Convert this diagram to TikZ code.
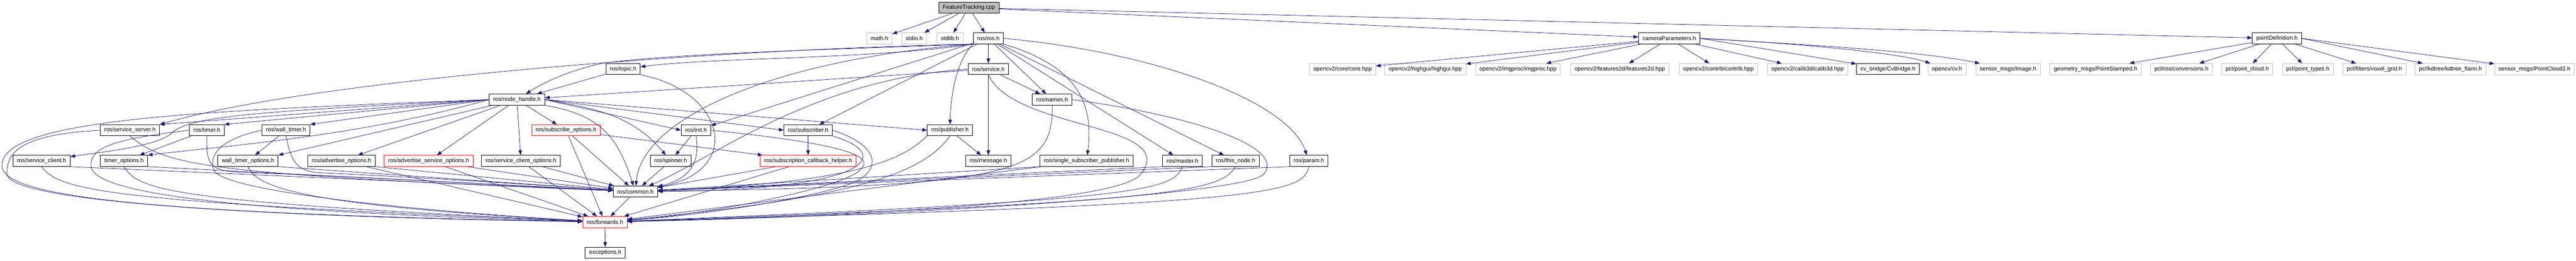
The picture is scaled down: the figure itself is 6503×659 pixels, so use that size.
\documentclass[tikz,border=0pt]{standalone}
\usepackage{fontspec}
\setmainfont{Liberation Sans}
\usepackage{tikz}
\usetikzlibrary{arrows.meta}

\definecolor{edgeblue}{HTML}{191970}
\definecolor{extgray}{HTML}{BFBFBF}

\begin{document}
\begin{tikzpicture}[
    x=1pt, y=1pt,
    box/.style={rectangle, draw=black, line width=1.2pt, minimum height=28pt, inner xsep=10pt, inner ysep=0pt, font=\fontsize{14.5}{17}\selectfont},
    extbox/.style={box, draw=extgray, line width=1pt},
    redbox/.style={box, draw=red},
    rootbox/.style={box, fill=extgray},
    arrow/.style={-{Triangle[length=12pt,width=9pt]}, draw=edgeblue, line width=1pt}
]
\useasboundingbox (0,0) rectangle (6503,-659);

% Source file and its direct includes
\node[rootbox] (ft) at (2446,-19.5) {FeatureTracking.cpp};
\node[extbox] (math) at (2220,-97) {math.h};
\node[extbox] (stdio) at (2308,-97) {stdio.h};
\node[extbox] (stdlib) at (2398,-97) {stdlib.h};
\node[box] (ros) at (2495,-97) {ros/ros.h};
\node[box] (campar) at (4214,-97) {cameraParameters.h};
\node[box] (ptdef) at (5748,-97) {pointDefinition.h};

% Third row
\node[box] (topic) at (1573,-174.5) {ros/topic.h};
\node[box] (service) at (2495,-174.5) {ros/service.h};
\node[extbox] (core) at (3389,-174.5) {opencv2/core/core.hpp};
\node[extbox] (highgui) at (3598,-174.5) {opencv2/highgui/highgui.hpp};
\node[extbox] (imgproc) at (3832,-174.5) {opencv2/imgproc/imgproc.hpp};
\node[extbox] (feat2d) at (4089,-174.5) {opencv2/features2d/features2d.hpp};
\node[extbox] (contrib) at (4338,-174.5) {opencv2/contrib/contrib.hpp};
\node[extbox] (calib3d) at (4563,-174.5) {opencv2/calib3d/calib3d.hpp};
\node[box] (cvbridge) at (4766,-174.5) {cv\_bridge/CvBridge.h};
\node[extbox] (cvh) at (4915,-174.5) {opencv/cv.h};
\node[extbox] (image) at (5069,-174.5) {sensor\_msgs/Image.h};
\node[extbox] (ptstamped) at (5290,-174.5) {geometry\_msgs/PointStamped.h};
\node[extbox] (conversions) at (5507,-174.5) {pcl/ros/conversions.h};
\node[extbox] (pointcloud) at (5673,-174.5) {pcl/point\_cloud.h};
\node[extbox] (pointtypes) at (5826,-174.5) {pcl/point\_types.h};
\node[extbox] (voxelgrid) at (5994,-174.5) {pcl/filters/voxel\_grid.h};
\node[extbox] (kdtree) at (6186,-174.5) {pcl/kdtree/kdtree\_flann.h};
\node[extbox] (pc2) at (6398,-174.5) {sensor\_msgs/PointCloud2.h};

% Fourth and fifth rows
\node[box] (nodehandle) at (1305,-251.7) {ros/node\_handle.h};
\node[box] (names) at (2656,-251.7) {ros/names.h};
\node[box] (srvserver) at (328,-329) {ros/service\_server.h};
\node[box] (timer) at (522,-329) {ros/timer.h};
\node[box] (walltimer) at (722,-329) {ros/wall\_timer.h};
\node[redbox] (subopts) at (1429,-329) {ros/subscribe\_options.h};
\node[box] (init) at (1757,-329) {ros/init.h};
\node[box] (subscriber) at (2040,-329) {ros/subscriber.h};
\node[box] (publisher) at (2398,-329) {ros/publisher.h};

% Sixth row
\node[box] (srvclient) at (105,-406.5) {ros/service\_client.h};
\node[box] (timeropts) at (313,-406.5) {timer\_options.h};
\node[box] (walltimeropts) at (626,-406.5) {wall\_timer\_options.h};
\node[box] (advopts) at (862,-406.5) {ros/advertise\_options.h};
\node[redbox] (advsrvopts) at (1082,-406.5) {ros/advertise\_service\_options.h};
\node[box] (srvclientopts) at (1315,-406.5) {ros/service\_client\_options.h};
\node[box] (spinner) at (1693,-406.5) {ros/spinner.h};
\node[redbox] (subcbhelper) at (2040,-406.5) {ros/subscription\_callback\_helper.h};
\node[box] (message) at (2495,-406.5) {ros/message.h};
\node[box] (ssp) at (2743,-406.5) {ros/single\_subscriber\_publisher.h};
\node[box] (master) at (2985,-406.5) {ros/master.h};
\node[box] (thisnode) at (3119,-406.5) {ros/this\_node.h};
\node[box] (param) at (3304,-406.5) {ros/param.h};

% Bottom
\node[box] (common) at (1604,-484) {ros/common.h};
\node[redbox] (forwards) at (1527,-561) {ros/forwards.h};
\node[box] (exceptions) at (1528,-638.5) {exceptions.h};

% FeatureTracking.cpp
\draw[arrow] (ft) -- (math);
\draw[arrow] (ft) -- (stdio);
\draw[arrow] (ft) -- (stdlib);
\draw[arrow] (ft) -- (ros);
\draw[arrow] (ft) -- (campar);
\draw[arrow] (ft) -- (ptdef);

% cameraParameters.h
\draw[arrow] (campar) -- (core);
\draw[arrow] (campar) -- (highgui);
\draw[arrow] (campar) -- (imgproc);
\draw[arrow] (campar) -- (feat2d);
\draw[arrow] (campar) -- (contrib);
\draw[arrow] (campar) -- (calib3d);
\draw[arrow] (campar.east) -- (cvbridge);
\draw[arrow] (campar.east) .. controls (4550,-110) and (4800,-135) .. (cvh);
\draw[arrow] (campar.east) .. controls (4600,-115) and (4850,-130) .. (image);

% pointDefinition.h
\draw[arrow] (ptdef) -- (ptstamped);
\draw[arrow] (ptdef) -- (conversions);
\draw[arrow] (ptdef) -- (pointcloud);
\draw[arrow] (ptdef) -- (pointtypes);
\draw[arrow] (ptdef) -- (voxelgrid);
\draw[arrow] (ptdef.east) -- (kdtree);
\draw[arrow] (ptdef.east) -- (pc2);

% ros/ros.h
\draw[arrow] (ros) -- (service);
\draw[arrow] (ros) -- (names);
\draw[arrow] (ros) -- (master);
\draw[arrow] (ros) -- (thisnode);
\draw[arrow] (ros.south east) .. controls (2730,-170) and (2760,-270) .. (ssp);
\draw[arrow] (ros.east) .. controls (2900,-130) and (3250,-250) .. (param);
\draw[arrow] (ros.south west) .. controls (2410,-160) and (2400,-250) .. (publisher);
\draw[arrow] (ros) -- (subscriber);
\draw[arrow] (ros) -- (init);
\draw[arrow] (ros.south west) .. controls (2200,-150) and (1800,-145) .. (topic);
\draw[arrow] (ros.south west) .. controls (2100,-125) and (1700,-135) .. (1520,-160) .. controls (1430,-180) and (1370,-210) .. (nodehandle);
\draw[arrow] (ros.south west) .. controls (1800,-125) and (800,-200) .. (srvserver.north east);
\draw[arrow] (ros.south west) .. controls (1950,-150) and (1620,-300) .. (common);

% ros/topic.h and ros/service.h
\draw[arrow] (topic) -- (nodehandle);
\draw[arrow] (topic.south east) .. controls (1830,-230) and (1880,-430) .. (common);
\draw[arrow] (service) -- (message);
\draw[arrow] (service) -- (names);
\draw[arrow] (service) -- (nodehandle);
\draw[arrow] (service.west) .. controls (2050,-200) and (1800,-400) .. (common);
\draw[arrow] (service.south) .. controls (2560,-330) and (2980,-310) .. (2880,-440) .. controls (2830,-505) and (2300,-540) .. (forwards);

% ros/node_handle.h
\draw[arrow] (nodehandle.west) -- (srvserver.north east);
\draw[arrow] (nodehandle.west) -- (timer.north east);
\draw[arrow] (nodehandle.west) -- (walltimer.north east);
\draw[arrow] (nodehandle.west) .. controls (700,-280) and (480,-290) .. (435,-335) .. controls (400,-370) and (250,-385) .. (srvclient);
\draw[arrow] (nodehandle.west) .. controls (900,-345) and (600,-365) .. (timeropts.north east);
\draw[arrow] (nodehandle) -- (walltimeropts.north east);
\draw[arrow] (nodehandle) -- (advopts);
\draw[arrow] (nodehandle) -- (advsrvopts);
\draw[arrow] (nodehandle) -- (srvclientopts);
\draw[arrow] (nodehandle) -- (subopts);
\draw[arrow] (nodehandle.east) -- (init.west);
\draw[arrow] (nodehandle.east) -- (subscriber.west);
\draw[arrow] (nodehandle.east) -- (publisher.west);
\draw[arrow] (nodehandle.east) to[out=-10,in=130] (spinner);
\draw[arrow] (nodehandle.south east) .. controls (1520,-290) and (1560,-350) .. (common);
\draw[arrow] (nodehandle.west) .. controls (500,-280) and (0,-300) .. (5,-420) .. controls (10,-500) and (400,-540) .. (forwards);

% ros/names.h
\draw[arrow] (names.south) .. controls (2660,-440) and (2560,-470) .. (common);
\draw[arrow] (names.east) .. controls (3000,-290) and (3250,-370) .. (3190,-440) .. controls (3150,-490) and (2300,-545) .. (forwards);

% server and timers
\draw[arrow] (srvserver.south) .. controls (420,-420) and (520,-440) .. (common);
\draw[arrow] (srvserver.west) .. controls (60,-340) and (15,-380) .. (18,-440) .. controls (20,-500) and (500,-545) .. (forwards);
\draw[arrow] (timer) -- (timeropts);
\draw[arrow] (timer.south) .. controls (520,-415) and (530,-430) .. (600,-435) .. controls (900,-445) and (1300,-470) .. (common);
\draw[arrow] (timer.west) .. controls (300,-350) and (225,-370) .. (230,-420) .. controls (235,-490) and (600,-535) .. (forwards);
\draw[arrow] (walltimer) -- (walltimeropts);
\draw[arrow] (walltimer.south) .. controls (735,-410) and (750,-430) .. (800,-436) .. controls (1100,-450) and (1400,-470) .. (common);
\draw[arrow] (walltimer.west) .. controls (560,-350) and (525,-390) .. (540,-430) .. controls (560,-480) and (1000,-530) .. (forwards);

% subscribe options, init, subscriber, publisher
\draw[arrow] (subopts) -- (subcbhelper);
\draw[arrow] (subopts) -- (common);
\draw[arrow] (subopts) -- (forwards);
\draw[arrow] (init) -- (spinner);
\draw[arrow] (init.south) .. controls (1770,-420) and (1730,-455) .. (common);
\draw[arrow] (init.east) .. controls (2100,-360) and (2210,-390) .. (2175,-425) .. controls (2150,-470) and (1800,-540) .. (forwards);
\draw[arrow] (subscriber) -- (subcbhelper);
\draw[arrow] (subscriber.south east) .. controls (2260,-390) and (2200,-480) .. (common);
\draw[arrow] (subscriber.east) .. controls (2230,-370) and (2230,-440) .. (2130,-470) .. controls (2000,-510) and (1750,-545) .. (forwards);
\draw[arrow] (publisher) -- (message);
\draw[arrow] (publisher.south west) .. controls (2280,-400) and (2180,-460) .. (common);
\draw[arrow] (publisher.south) .. controls (2330,-440) and (2150,-500) .. (forwards);

% sixth row to ros/common.h and ros/forwards.h
\draw[arrow] (srvclient.south east) -- (common);
\draw[arrow] (srvclient.south) .. controls (150,-480) and (250,-510) .. (forwards);
\draw[arrow] (timeropts.south east) -- (common);
\draw[arrow] (timeropts.south) .. controls (350,-480) and (420,-510) .. (forwards);
\draw[arrow] (walltimeropts.south east) -- (common);
\draw[arrow] (walltimeropts.south) .. controls (650,-480) and (800,-520) .. (forwards);
\draw[arrow] (advopts.south east) -- (common);
\draw[arrow] (advopts) -- (forwards);
\draw[arrow] (advsrvopts) -- (common);
\draw[arrow] (advsrvopts) -- (forwards);
\draw[arrow] (srvclientopts) -- (common);
\draw[arrow] (srvclientopts) -- (forwards);
\draw[arrow] (spinner) -- (common);
\draw[arrow] (subcbhelper) -- (common);
\draw[arrow] (subcbhelper) -- (forwards);
\draw[arrow] (ssp.south west) -- (common);
\draw[arrow] (ssp) -- (forwards);
\draw[arrow] (master.south west) -- (common);
\draw[arrow] (master.south) .. controls (2960,-480) and (2900,-505) .. (forwards);
\draw[arrow] (thisnode.south west) -- (common);
\draw[arrow] (thisnode.south) .. controls (3080,-485) and (2960,-510) .. (forwards);
\draw[arrow] (param.south west) -- (common);
\draw[arrow] (param.south) .. controls (3290,-490) and (3200,-515) .. (forwards);

% last two levels
\draw[arrow] (common) -- (forwards);
\draw[arrow] (forwards) -- (exceptions);

\end{tikzpicture}
\end{document}
